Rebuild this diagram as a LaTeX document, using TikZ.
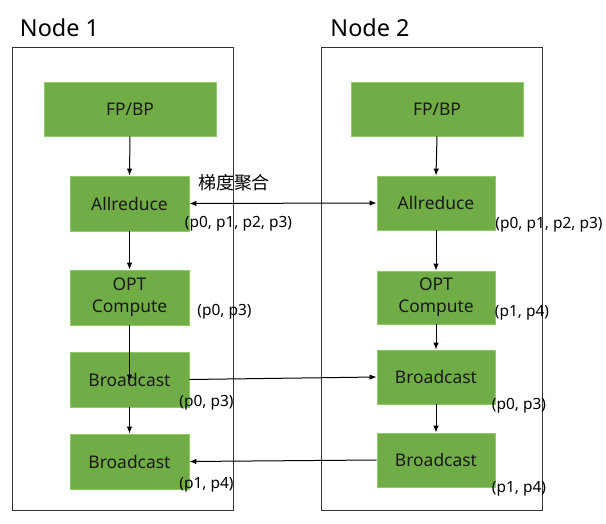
\documentclass[tikz,border=0pt]{standalone}
\usepackage{fontspec}
\setmainfont{Noto Sans}
\newfontfamily\cjk{Noto Sans CJK SC}
\usetikzlibrary{arrows.meta}
\definecolor{boxgreen}{HTML}{70AD47}
\definecolor{boxedge}{HTML}{8FCB62}
\definecolor{frameline}{HTML}{333333}
\tikzset{
  stepbox/.style={draw=boxedge, line width=0.8bp, fill=boxgreen, inner sep=0pt, align=center, font=\fontsize{17.5}{22}\selectfont, text=black!90},
  lbl/.style={inner sep=0pt, font=\fontsize{15.5}{18}\selectfont},
  ttl/.style={inner sep=0pt, font=\fontsize{23.5}{28}\selectfont},
  arr/.style={line width=1bp, -{Latex[length=7bp,width=5.5bp]}},
  frame/.style={draw=frameline, line width=0.9bp}
}
\begin{document}
\begin{tikzpicture}[x=1bp,y=-1bp]
\useasboundingbox (0,0) rectangle (606,524);
% frames
\node[frame, minimum width=221bp, minimum height=463bp, inner sep=0pt] (f1) at (122.5,278.5) {};
\node[frame, minimum width=221bp, minimum height=463bp, inner sep=0pt] (f2) at (431.5,278.5) {};
\node[ttl] (t1) at (59.5,28) {Node 1};
\node[ttl] (t2) at (370,28) {Node 2};
% left boxes
\node[stepbox, minimum width=172bp, minimum height=54bp] (lfp) at (130,109) {FP/BP};
\node[stepbox, minimum width=119bp, minimum height=55bp] (lall) at (129.5,203.5) {Allreduce};
\node[stepbox, minimum width=119bp, minimum height=55bp] (lopt) at (129.5,297.5) {OPT\\Compute};
\node[stepbox, minimum width=119bp, minimum height=55bp] (lbc1) at (129.5,379.5) {Broadcast};
\node[stepbox, minimum width=119bp, minimum height=55bp] (lbc2) at (129.5,461.5) {Broadcast};
% right boxes
\node[stepbox, minimum width=172bp, minimum height=54bp] (rfp) at (437,109) {FP/BP};
\node[stepbox, minimum width=118bp, minimum height=54bp] (rall) at (436,203) {Allreduce};
\node[stepbox, minimum width=118bp, minimum height=53bp] (ropt) at (436,297.5) {OPT\\Compute};
\node[stepbox, minimum width=118bp, minimum height=54bp] (rbc1) at (436,377) {Broadcast};
\node[stepbox, minimum width=118bp, minimum height=54bp] (rbc2) at (436,460) {Broadcast};
% vertical arrows left
\draw[arr] (lfp.south) -- (lall.north);
\draw[arr] (lall.south) -- (lopt.north);
\draw[arr] (lopt.south) -- ([yshift=-2bp]lbc1.center);
\draw[arr] (lbc1.south) -- (lbc2.north);
% vertical arrows right
\draw[arr] (rfp.south) -- (rall.north);
\draw[arr] (rall.south) -- (ropt.north);
\draw[arr] (ropt.south) -- (rbc1.north);
\draw[arr] (rbc1.south) -- (rbc2.north);
% horizontal
\draw[line width=1bp, {Latex[length=7bp,width=5.5bp]}-{Latex[length=7bp,width=5.5bp]}] (lall.east) -- (rall.west);
\draw[arr] (lbc1.east) -- (rbc1.west);
\draw[arr] (rbc2.west) -- (lbc2.east);
% labels
\node[inner sep=0pt, font=\cjk\fontsize{18}{21}\selectfont] (agg) at (234,183) {梯度聚合};
\node[lbl] (lp1) at (238.5,224) {(p0, p1, p2, p3)};
\node[lbl] (rp1) at (549,225) {(p0, p1, p2, p3)};
\node[lbl] (lp2) at (224.5,312) {(p0, p3)};
\node[lbl] (lp3) at (206.5,403) {(p0, p3)};
\node[lbl] (lp4) at (206.5,485) {(p1, p4)};
\node[lbl] (rp2) at (522,313) {(p1, p4)};
\node[lbl] (rp3) at (519,406) {(p0, p3)};
\node[lbl] (rp4) at (519,489) {(p1, p4)};
\end{tikzpicture}
\end{document}
